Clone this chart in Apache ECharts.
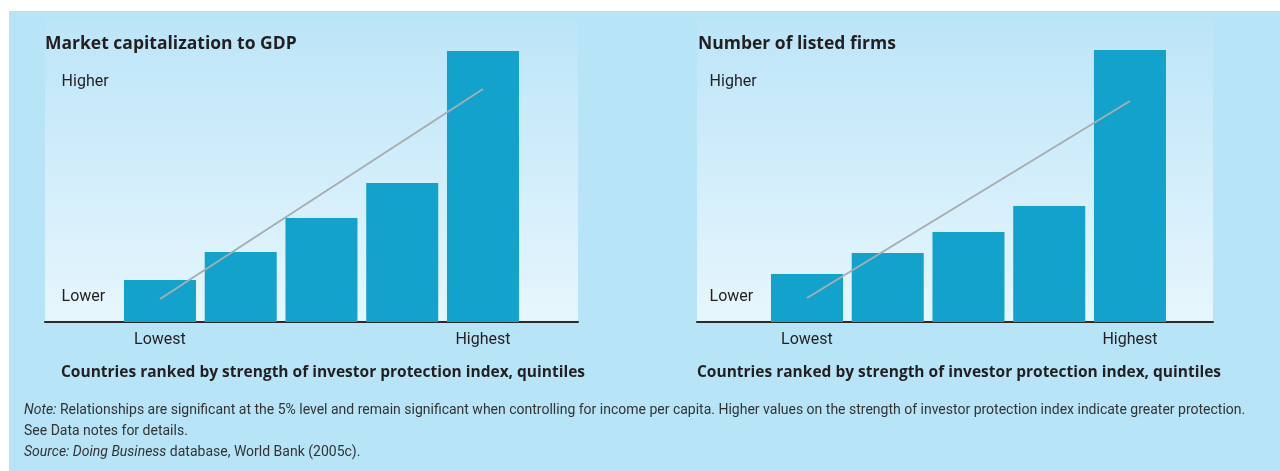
<!DOCTYPE html>
<html>
<head>
<meta charset="utf-8">
<script src="https://cdn.jsdelivr.net/npm/echarts@6/dist/echarts.min.js"></script>
<style>
  html, body { margin: 0; padding: 0; background: #fff; }
  .box-bg { position: absolute; left: 9px; top: 11px; width: 1271px; height: 460px; background: #b8e4f8; }
  #main { position: absolute; left: 0; top: 0; width: 1280px; height: 471px; }
</style>
</head>
<body>
<div class="box-bg"></div>
<div id="main"></div>
<script>
// quintiles of the investor protection index
var quintiles = ['Lowest', '', '', '', 'Highest']
// bar heights (relative units)
var marketCap = [42, 70, 104, 139, 271]
var listedFirms = [48, 69, 90, 116, 272]
// trend lines: [quintile index, value]
var marketCapTrend = [[0, 23], [4, 233]]
var listedFirmsTrend = [[0, 24], [4, 221]]
// qualitative y labels and where they sit on the value scale
var yLabelValues = [25, 240]
var yLabelNames = ['Lower', 'Higher']

var FONT = 'Roboto, "Noto Sans", sans-serif'
var BOLD = '"Open Sans", Roboto, sans-serif'
var TXT = '#231f20'
var BAR = '#12a2cb'

var panelFill = new echarts.graphic.LinearGradient(0, 0, 0, 1, [
  {offset: 0, color: '#bce5f8'},
  {offset: 1, color: '#e7f6fd'}
])

// background panel grid with the baseline
function panelAxes (gi) {
  return {
    x: {gridIndex: gi, type: 'value', min: 0, max: 1,
      axisLine: {show: true, lineStyle: {color: '#2b2b2b', width: 2}},
      axisTick: {show: false}, axisLabel: {show: false}, splitLine: {show: false}},
    y: {gridIndex: gi, type: 'value', min: 0, max: 1, show: false}
  }
}
function barAxes (gi, margin) {
  return {
    x: {gridIndex: gi, type: 'category', data: quintiles,
      axisLine: {show: false}, axisTick: {show: false},
      axisLabel: {interval: 0, margin: 10, fontSize: 16, color: TXT, fontFamily: FONT}},
    y: {gridIndex: gi, type: 'value', min: 0, max: 300,
      axisLine: {show: false}, axisTick: {show: false}, splitLine: {show: false},
      axisLabel: {
        show: true, customValues: yLabelValues, align: 'left', margin: margin,
        fontSize: 16, color: TXT, fontFamily: FONT,
        formatter: function (v) { return yLabelNames[yLabelValues.indexOf(v)] }
      }}
  }
}

var pL = panelAxes(0), bL = barAxes(1, 58), pR = panelAxes(2), bR = barAxes(3, 57)

var chart = echarts.init(document.getElementById('main'), null, {renderer: 'canvas'})
chart.setOption({
  animation: false,
  backgroundColor: 'transparent',
  grid: [
    {left: 45, top: 20, width: 533, height: 302, show: true, backgroundColor: panelFill, borderWidth: 0},
    {left: 119.6, top: 22, width: 403.75, height: 300},
    {left: 697, top: 20, width: 516, height: 302, show: true, backgroundColor: panelFill, borderWidth: 0},
    {left: 766.6, top: 22, width: 403.75, height: 300}
  ],
  xAxis: [pL.x, bL.x, pR.x, bR.x],
  yAxis: [pL.y, bL.y, pR.y, bR.y],
  title: [
    {text: 'Market capitalization to GDP', left: 45, top: 35, padding: 0,
      textStyle: {fontSize: 17.5, fontWeight: 'bold', color: TXT, fontFamily: BOLD}},
    {text: 'Number of listed firms', left: 698, top: 35, padding: 0,
      textStyle: {fontSize: 17.5, fontWeight: 'bold', color: TXT, fontFamily: BOLD}},
    {text: 'Countries ranked by strength of investor protection index, quintiles', left: 323, top: 365, textAlign: 'center', padding: 0,
      textStyle: {fontSize: 15.5, fontWeight: 'bold', color: TXT, fontFamily: BOLD}},
    {text: 'Countries ranked by strength of investor protection index, quintiles', left: 959, top: 365, textAlign: 'center', padding: 0,
      textStyle: {fontSize: 15.5, fontWeight: 'bold', color: TXT, fontFamily: BOLD}},
    {text: '{i|Note:} Relationships are significant at the 5% level and remain significant when controlling for income per capita. Higher values on the strength of investor protection index indicate greater protection.\nSee Data notes for details.\n{i|Source: Doing Business} database, World Bank (2005c).',
      left: 24, top: 400, padding: 0,
      textStyle: {fontSize: 14, fontWeight: 'normal', color: '#333', fontFamily: FONT, lineHeight: 21,
        rich: {i: {fontStyle: 'italic', fontSize: 14, color: '#333', fontFamily: FONT}}}}
  ],
  series: [
    {type: 'bar', xAxisIndex: 1, yAxisIndex: 1, data: marketCap, barWidth: 72, itemStyle: {color: BAR}},
    {type: 'line', xAxisIndex: 1, yAxisIndex: 1, data: marketCapTrend, symbol: 'none', z: 5,
      lineStyle: {color: '#a8adb0', width: 2}},
    {type: 'bar', xAxisIndex: 3, yAxisIndex: 3, data: listedFirms, barWidth: 72, itemStyle: {color: BAR}},
    {type: 'line', xAxisIndex: 3, yAxisIndex: 3, data: listedFirmsTrend, symbol: 'none', z: 5,
      lineStyle: {color: '#a8adb0', width: 2}}
  ]
})
</script>
</body>
</html>
